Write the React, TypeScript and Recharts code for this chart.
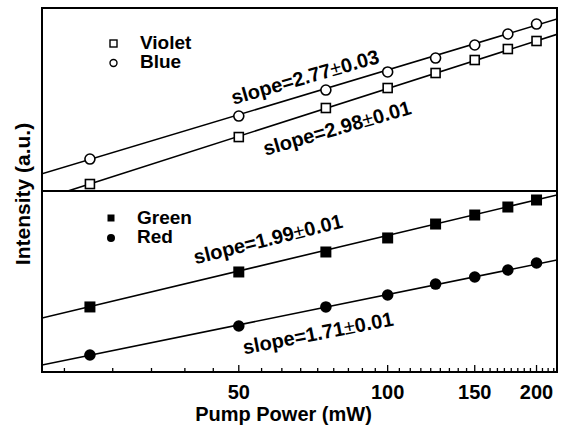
import React from 'react';
import { ComposedChart, Line, Scatter, XAxis, YAxis } from 'recharts';

// Pump power (mW) of the measured points
const pumpPower = [25, 50, 75, 100, 125, 150, 175, 200];
// Upconversion intensities (a.u.)
const violet = [1.35, 10.2, 35.6, 84.2, 160.6, 281, 451, 637];
const blue = [3.96, 25.2, 77.2, 168, 306, 536, 860, 1322];
const green = [12.4, 48, 104, 179, 307, 435, 593, 778];
const red = [1.93, 5.93, 12.4, 19.7, 30.1, 39.5, 51.8, 67.9];

// Fitted lines, end points
const fitPower = [20, 220];
const violetFit = [0.7, 850];
const blueFit = [2.1, 1640];
const greenFit = [8.1, 944];
const redFit = [1.31, 76.3];

// Axis ticks
const majorTicks = [50, 100, 150, 200];
const minorTicks = [
  22.2, 27.8, 33.3, 38.9, 44.4,
  55.6, 61.1, 66.7, 72.2, 77.8, 83.3, 88.9, 94.4,
  105.6, 111.1, 116.7, 122.2, 127.8, 133.3, 138.9, 144.4,
  155.6, 161.1, 166.7, 172.2, 177.8, 183.3, 188.9, 194.4,
  205.6, 211.1, 216.7,
];
const allTicks = [...minorTicks, ...majorTicks].sort((a, b) => a - b);

const slopeLabels = ['slope=2.77', 'slope=2.98', 'slope=1.99', 'slope=1.71'];
const slopeErrors = ['0.03', '0.01', '0.01', '0.01'];
const legendNames = ['Violet', 'Blue', 'Green', 'Red'];

const toPts = (xs: number[], ys: number[]) => xs.map((x, i) => ({ x, y: ys[i] }));

const FONT = '"Liberation Sans", Arial, Helvetica, sans-serif';

const makeTick = (showLabel: boolean) => (props: any) => {
  const { x, y, payload } = props;
  const v = payload.value;
  const major = majorTicks.includes(v);
  return (
    <g>
      <line x1={x} x2={x} y1={y} y2={y - (major ? 7 : 4)} stroke="#000" strokeWidth={1.3} />
      {showLabel && major ? (
        <text x={x} y={y + 27} textAnchor="middle" fontFamily={FONT} fontWeight="bold" fontSize={20} fill="#000">
          {v}
        </text>
      ) : null}
    </g>
  );
};

const openSquare = (p: any) => (
  <rect x={p.cx - 4.5} y={p.cy - 4.5} width={9} height={9} fill="#fff" stroke="#000" strokeWidth={1.6} />
);
const openCircle = (p: any) => (
  <circle cx={p.cx} cy={p.cy} r={5} fill="#fff" stroke="#000" strokeWidth={1.6} />
);
const filledSquare = (p: any) => (
  <rect x={p.cx - 5.5} y={p.cy - 5.5} width={11} height={11} fill="#000" />
);
const filledCircle = (p: any) => <circle cx={p.cx} cy={p.cy} r={5.8} fill="#000" />;

const lineProps = {
  dataKey: 'y',
  stroke: '#000',
  strokeWidth: 1.6,
  dot: false,
  activeDot: false,
  type: 'linear' as const,
  isAnimationActive: false,
};

export default function App() {
  const textStyle = { fontFamily: FONT, fontWeight: 'bold' as const, fill: '#000' };
  return (
    <div style={{ position: 'absolute', left: 0, top: 0, width: 566, height: 429, background: '#fff' }}>
      {/* Upper panel: violet and blue */}
      <div style={{ position: 'absolute', left: 0, top: 0 }}>
        <ComposedChart width={566} height={191} margin={{ top: 8, right: 9, left: 42, bottom: 0 }}>
          <XAxis
            dataKey="x"
            type="number"
            scale="log"
            domain={[20, 220]}
            allowDataOverflow
            ticks={allTicks}
            interval={0}
            height={0}
            tickSize={0}
            tickMargin={0}
            axisLine={false}
            tickLine={false}
            tick={makeTick(false)}
          />
          <YAxis dataKey="y" type="number" scale="log" domain={[1, 2636]} allowDataOverflow hide />
          <Line data={toPts(fitPower, blueFit)} {...lineProps} />
          <Line data={toPts(fitPower, violetFit)} {...lineProps} />
          <Scatter data={toPts(pumpPower, blue)} shape={openCircle} isAnimationActive={false} />
          <Scatter data={toPts(pumpPower, violet)} shape={openSquare} isAnimationActive={false} />
        </ComposedChart>
      </div>
      {/* Lower panel: green and red */}
      <div style={{ position: 'absolute', left: 0, top: 191 }}>
        <ComposedChart width={566} height={238} margin={{ top: 0, right: 9, left: 42, bottom: 0 }}>
          <XAxis
            dataKey="x"
            type="number"
            scale="log"
            domain={[20, 220]}
            allowDataOverflow
            ticks={allTicks}
            interval={0}
            height={57}
            tickSize={0}
            tickMargin={0}
            axisLine={false}
            tickLine={false}
            tick={makeTick(true)}
            label={{
              content: (p: any) => {
                const vb = p.viewBox || { x: 42, y: 181, width: 515 };
                return (
                  <text x={vb.x + vb.width / 2 - 16} y={vb.y + 49} textAnchor="middle" fontFamily={FONT} fontWeight="bold" fontSize={20} fill="#000">
                    Pump Power (mW)
                  </text>
                );
              },
            }}
          />
          <YAxis dataKey="y" type="number" scale="log" domain={[1, 1102]} allowDataOverflow hide />
          <Line data={toPts(fitPower, greenFit)} {...lineProps} />
          <Line data={toPts(fitPower, redFit)} {...lineProps} />
          <Scatter data={toPts(pumpPower, green)} shape={filledSquare} isAnimationActive={false} />
          <Scatter data={toPts(pumpPower, red)} shape={filledCircle} isAnimationActive={false} />
        </ComposedChart>
      </div>
      {/* Frame */}
      <div
        style={{
          position: 'absolute',
          left: 41,
          top: 7,
          width: 517,
          height: 366,
          border: '2px solid #000',
          boxSizing: 'border-box',
          pointerEvents: 'none',
        }}
      />
      <div style={{ position: 'absolute', left: 41, top: 190, width: 517, height: 2, background: '#000' }} />
      {/* Texts and legends */}
      <svg width={566} height={429} style={{ position: 'absolute', left: 0, top: 0, pointerEvents: 'none' }}>
        <text transform="translate(22,194) rotate(-90)" textAnchor="middle" dominantBaseline="central" fontSize={21} {...textStyle}>
          Intensity (a.u.)
        </text>
        {/* legend upper */}
        <rect x={110} y={40} width={7} height={7} fill="#fff" stroke="#000" strokeWidth={1.4} />
        <text x={140} y={49} fontSize={19} {...textStyle}>{legendNames[0]}</text>
        <circle cx={113.5} cy={63} r={3.5} fill="#fff" stroke="#000" strokeWidth={1.4} />
        <text x={140} y={68} fontSize={19} {...textStyle}>{legendNames[1]}</text>
        {/* legend lower */}
        <rect x={107.5} y={214.5} width={7} height={7} fill="#000" />
        <text x={137} y={224} fontSize={19} {...textStyle}>{legendNames[2]}</text>
        <circle cx={111} cy={238} r={4} fill="#000" />
        <text x={137} y={243} fontSize={19} {...textStyle}>{legendNames[3]}</text>
        {/* slope annotations */}
        <text transform="translate(305,77) rotate(-16)" textAnchor="middle" dominantBaseline="central" fontSize={20} {...textStyle}>
          {slopeLabels[0]}
          <tspan fontWeight="normal">±</tspan>
          {slopeErrors[0]}
        </text>
        <text transform="translate(337,128) rotate(-16)" textAnchor="middle" dominantBaseline="central" fontSize={20} {...textStyle}>
          {slopeLabels[1]}
          <tspan fontWeight="normal">±</tspan>
          {slopeErrors[1]}
        </text>
        <text transform="translate(268,239) rotate(-14)" textAnchor="middle" dominantBaseline="central" fontSize={20} {...textStyle}>
          {slopeLabels[2]}
          <tspan fontWeight="normal">±</tspan>
          {slopeErrors[2]}
        </text>
        <text transform="translate(318,333) rotate(-11)" textAnchor="middle" dominantBaseline="central" fontSize={20} {...textStyle}>
          {slopeLabels[3]}
          <tspan fontWeight="normal">±</tspan>
          {slopeErrors[3]}
        </text>
      </svg>
    </div>
  );
}
